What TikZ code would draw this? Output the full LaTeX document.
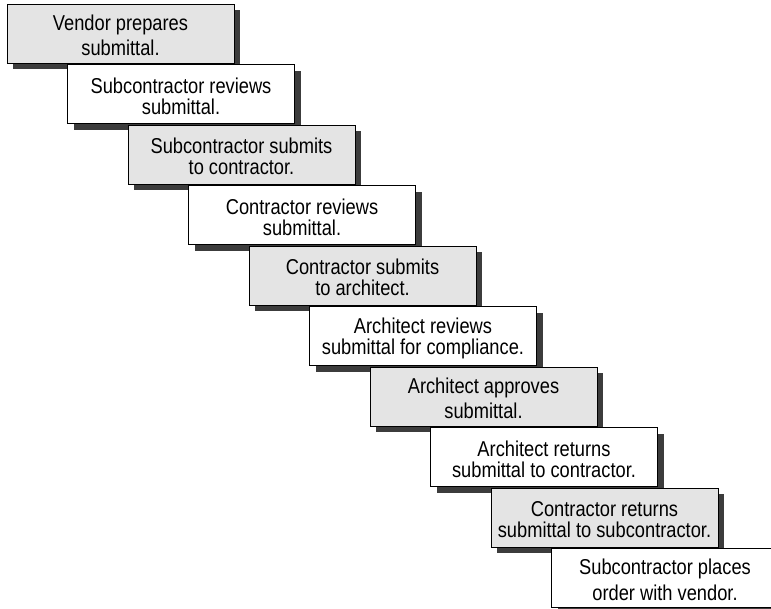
\documentclass[tikz,border=0pt]{standalone}
\usepackage{fontspec}
\setmainfont{Liberation Sans}[FakeStretch=0.85]
\usetikzlibrary{shadows}

\definecolor{stepgray}{HTML}{E4E4E4}
\definecolor{shadowgray}{HTML}{3C3C3C}

% two-line step label, each line carrying a fixed strut
\newcommand\stepline[1]{\rule[-1pt]{0pt}{21pt}#1}
\newcommand\steptext[2]{\stepline{#1}\\\stepline{#2}}

\tikzset{
  stepbox/.style={draw=black, line width=1pt,
    minimum width=227pt, minimum height=59pt, inner sep=0pt,
    align=center, font=\fontsize{21.5}{21}\selectfont,
    drop shadow={shadow xshift=6pt, shadow yshift=-6pt,
      fill=shadowgray, draw=none, opacity=1}},
  graystep/.style={stepbox, fill=stepgray},
  whitestep/.style={stepbox, fill=white}
}

\begin{document}
\begin{tikzpicture}[x=1pt, y=-1pt]
  \useasboundingbox (0,0) rectangle (771,608);
  \clip (0,0) rectangle (771,608);

  \node[graystep]  (b1)  at (120.5, 33.5) {\steptext{Vendor prepares}{submittal.}};
  \node[whitestep] (b2)  at (181.0, 94.0) {\steptext{Subcontractor reviews}{submittal.}};
  \node[graystep]  (b3)  at (241.5,154.5) {\steptext{Subcontractor submits}{to contractor.}};
  \node[whitestep] (b4)  at (302.0,215.0) {\steptext{Contractor reviews}{submittal.}};
  \node[graystep]  (b5)  at (362.5,275.5) {\steptext{Contractor submits}{to architect.}};
  \node[whitestep] (b6)  at (423.0,336.0) {\steptext{Architect reviews}{submittal for compliance.}};
  \node[graystep]  (b7)  at (483.5,396.5) {\steptext{Architect approves}{submittal.}};
  \node[whitestep] (b8)  at (544.0,457.0) {\steptext{Architect returns}{submittal to contractor.}};
  \node[graystep]  (b9)  at (604.5,517.5) {\steptext{Contractor returns}{submittal to subcontractor.}};
  \node[whitestep] (b10) at (665.0,578.0) {\steptext{Subcontractor places}{order with vendor.}};
\end{tikzpicture}
\end{document}
